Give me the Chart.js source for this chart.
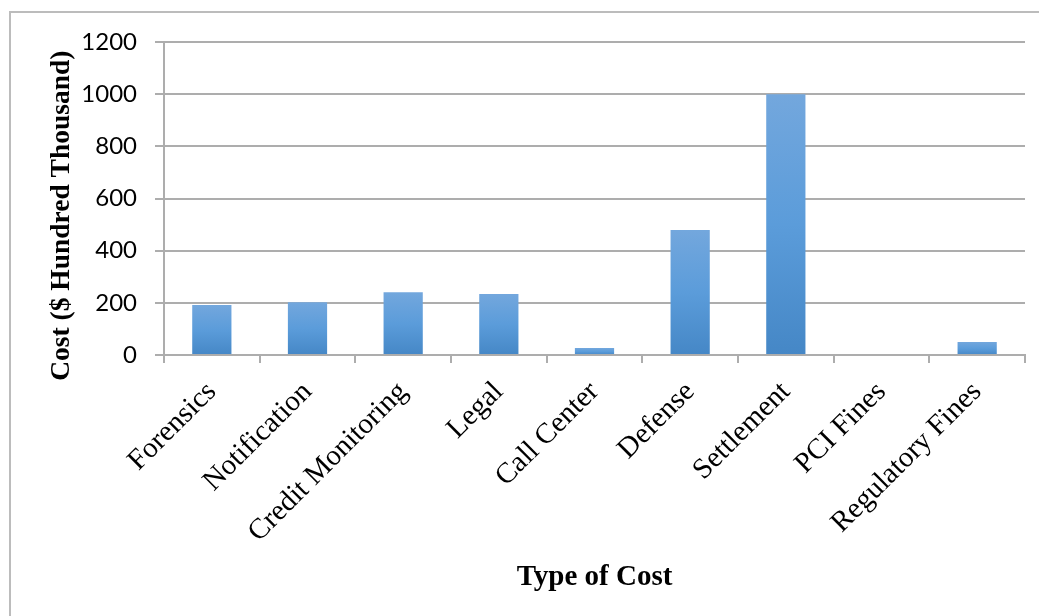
<!DOCTYPE html>
<html lang="en">
<head>
    <meta charset="UTF-8">
    <title>Type of Cost</title>
    <script src="https://cdn.jsdelivr.net/npm/chart.js@4.4.1/dist/chart.umd.min.js"></script>
    <style>
        body { margin: 0; background: #fff; overflow: hidden; }
        #wrap { position: relative; width: 1039px; height: 616px; }
        /* light frame round the chart; its right and bottom edges run off the page */
        #frame { position: absolute; left: 9px; top: 11px; width: 1200px; height: 800px;
                 border: 2px solid #bcbcbc; box-sizing: border-box; }
        #costChart { position: absolute; left: 0; top: 0; }
    </style>
</head>
<body>
<div id="wrap">
    <div id="frame"></div>
    <canvas id="costChart" width="1039" height="616"></canvas>
</div>
<script>
    const categories = ['Forensics', 'Notification', 'Credit Monitoring', 'Legal', 'Call Center',
                        'Defense', 'Settlement', 'PCI Fines', 'Regulatory Fines'];
    const costs = [192, 202, 241, 234, 27, 479, 1000, 0, 50];   // $ hundred thousand

    const yMin = 0;
    const yMax = 1200;
    const yStep = 200;

    const GRID = '#adadad';
    const BAR_TOP = '#73a7dd';
    const BAR_MID = '#5b9cda';
    const BAR_BOTTOM = '#4587c6';

    // each bar fades from light at its top to darker at the baseline
    function barFill(ctx) {
        const chart = ctx.chart;
        if (!chart.chartArea || ctx.type !== 'data') return BAR_MID;
        const y = chart.scales.y;
        const top = y.getPixelForValue(ctx.parsed.y);
        const base = y.getPixelForValue(0);
        if (base - top < 1) return BAR_MID;
        const g = chart.ctx.createLinearGradient(0, top, 0, base);
        g.addColorStop(0, BAR_TOP);
        g.addColorStop(0.5, BAR_MID);
        g.addColorStop(1, BAR_BOTTOM);
        return g;
    }

    new Chart(document.getElementById('costChart'), {
        type: 'bar',
        data: {
            labels: categories,
            datasets: [{
                label: 'Cost',
                data: costs,
                backgroundColor: barFill,
                borderWidth: 0,
                categoryPercentage: 1,
                barPercentage: 0.41
            }]
        },
        options: {
            responsive: false,
            animation: false,
            layout: { padding: { top: 42, right: 14, left: 0, bottom: 0 } },
            plugins: {
                legend: { display: false },
                tooltip: { enabled: false }
            },
            scales: {
                x: {
                    afterFit: s => { s.height = 261; },
                    grid: {
                        drawOnChartArea: false,
                        offset: true,
                        color: GRID,
                        lineWidth: 2,
                        tickLength: 8
                    },
                    border: { display: true, color: GRID, width: 2 },
                    ticks: {
                        minRotation: 45,
                        maxRotation: 45,
                        autoSkip: false,
                        padding: 12,
                        color: '#000',
                        font: { family: '"Liberation Serif", "Times New Roman", serif', size: 29 }
                    },
                    title: {
                        display: true,
                        text: 'Type of Cost',
                        color: '#000',
                        padding: { top: 0, bottom: 21 },
                        font: { family: '"Liberation Serif", "Times New Roman", serif', size: 29, weight: 'bold' }
                    }
                },
                y: {
                    min: yMin,
                    max: yMax,
                    afterFit: s => { s.width = 164; },
                    grid: {
                        color: GRID,
                        lineWidth: 2,
                        tickLength: 9
                    },
                    border: { display: true, color: GRID, width: 2 },
                    ticks: {
                        stepSize: yStep,
                        padding: 18,
                        color: '#000',
                        callback: v => String(v),
                        font: { family: 'Lato, "Open Sans", sans-serif', size: 24 }
                    },
                    title: {
                        display: true,
                        // trailing spaces nudge the title a little below the axis middle
                        text: 'Cost ($ Hundred Thousand)\u00a0\u00a0\u00a0\u00a0\u00a0',
                        color: '#000',
                        padding: { top: 45.8, bottom: 0 },
                        font: { family: '"Liberation Serif", "Times New Roman", serif', size: 27.5, weight: 'bold' }
                    }
                }
            }
        }
    });
</script>
</body>
</html>
